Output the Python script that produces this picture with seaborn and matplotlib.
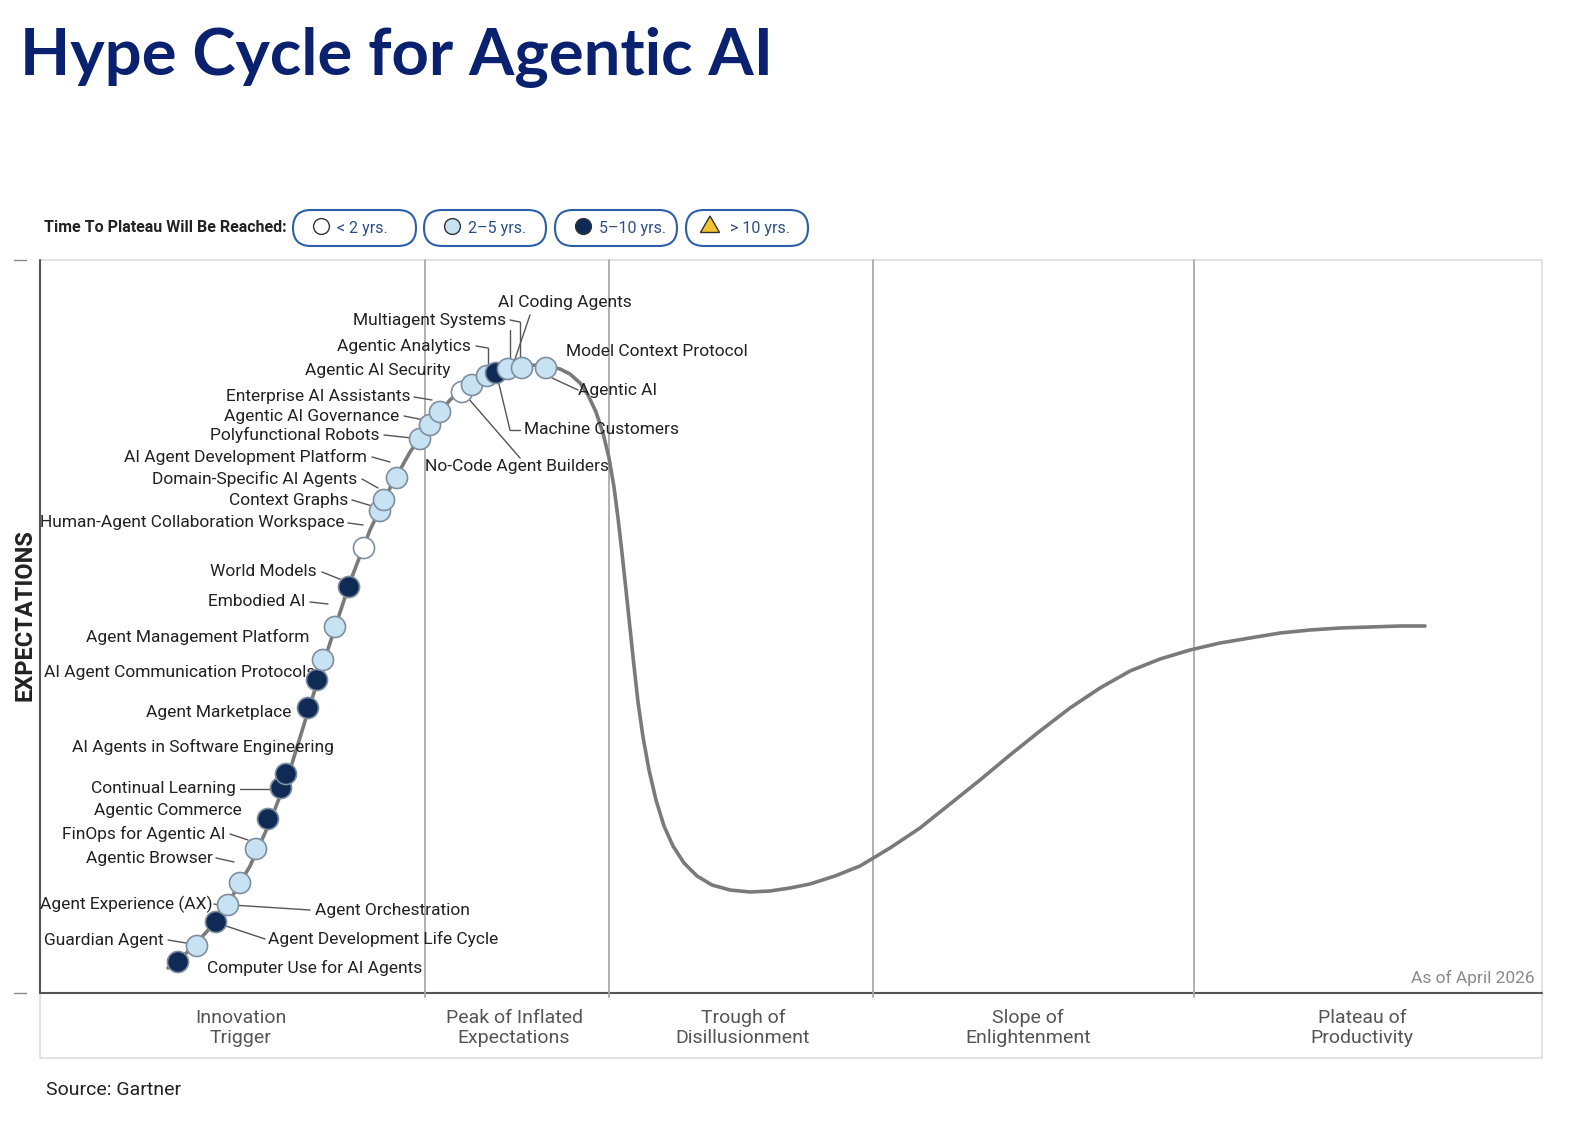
import matplotlib
matplotlib.use("Agg")
import numpy as np
import matplotlib.pyplot as plt
import seaborn as sns
from matplotlib.patches import FancyBboxPatch, RegularPolygon

sns.set_theme(style="white")
plt.rcParams['font.family'] = ['Roboto', 'DejaVu Sans']

# hype curve samples (pixel space)
curve_x = [168,190,210,230,250,270,290,310,330,350,370,390,410,430,450,470,490,510,530,548,560,570,580,588,596,603,609,614,618,622,626,630,634,638,643,649,656,664,673,684,697,712,730,750,770,790,810,835,860,890,920,950,980,1010,1040,1070,1100,1130,1160,1190,1220,1250,1280,1310,1340,1370,1400,1425]
curve_y = [968,950,928,900,866,822,770,705,643,582,530,488,452,424,400,383,373,368,365,366,369,374,383,395,412,433,458,487,518,553,590,628,666,702,737,770,800,826,846,863,876,885,890,892,891,888,884,876,866,848,828,804,780,755,731,708,688,671,659,650,643,638,633,630,628,627,626,626]

# innovation dots: x, y, kind (w=<2, l=2-5, d=5-10)
dot_x = [178,197,216,228,240,256,268,281,286,308,317,323,335,349,364,380,384,397,420,430,440,462,472,487,496,508,522,546]
dot_y = [962,946,922,905,883,849,819,788,774,708,680,660,627,587,548,511,500,478,439,425,412,392,385,376,373,369,368,368]
dot_kind = ['d','l','d','l','l','l','d','d','d','d','d','l','l','d','w','l','l','l','l','l','l','w','l','l','d','l','l','l']

# labels: text, x, y, ha, leader (x0,y0,x1,y1)
labels = [
    ("Computer Use for AI Agents", 207, 968, 'left', None),
    ("Guardian Agent", 164, 940, 'right', (168,940,192,944)),
    ("Agent Development Life Cycle", 268, 939, 'left', (265,939,220,924)),
    ("Agent Experience (AX)", 213, 904, 'right', (214,904,224,906)),
    ("Agent Orchestration", 315, 910, 'left', (310,910,232,905)),
    ("Agentic Browser", 213, 858, 'right', (216,858,234,862)),
    ("FinOps for Agentic AI", 226, 834, 'right', (230,834,248,840)),
    ("Agentic Commerce", 242, 811, 'right', None),
    ("Continual Learning", 236, 789, 'right', (240,789,276,789)),
    ("AI Agents in Software Engineering", 72, 747, 'left', None),
    ("Agent Marketplace", 291, 712, 'right', None),
    ("AI Agent Communication Protocols", 44, 673, 'left', None),
    ("Agent Management Platform", 309, 637, 'right', None),
    ("Embodied AI", 305, 602, 'right', (310,602,328,604)),
    ("World Models", 317, 572, 'right', (322,572,342,580)),
    ("Human-Agent Collaboration Workspace", 344, 523, 'right', (348,523,363,525)),
    ("Context Graphs", 348, 500, 'right', (352,500,372,506)),
    ("Domain-Specific AI Agents", 357, 479, 'right', (362,479,378,488)),
    ("AI Agent Development Platform", 367, 457, 'right', (372,457,390,462)),
    ("Polyfunctional Robots", 379, 435, 'right', (384,435,412,438)),
    ("Agentic AI Governance", 399, 416, 'right', (404,416,424,420)),
    ("Enterprise AI Assistants", 411, 397, 'right', (414,397,432,400)),
    ("Agentic AI Security", 305, 370, 'left', None),
    ("Agentic Analytics", 471, 346, 'right', (476,346,488,348,)),
    ("Multiagent Systems", 506, 320, 'right', (510,320,520,322)),
    ("AI Coding Agents", 498, 303, 'left', None),
    ("Model Context Protocol", 566, 352, 'left', None),
    ("Agentic AI", 578, 390, 'left', None),
    ("Machine Customers", 524, 430, 'left', None),
    ("No-Code Agent Builders", 425, 466, 'left', None),
]
extra_leaders = [(488,348,488,372),(520,322,520,362),(514,362,530,315),(510,330,510,366),
                 (552,378,578,390),(498,380,510,430),(510,430,520,430),(468,398,520,458)]

phase_x = [425, 609, 873, 1194]
phase_names = ["Innovation\nTrigger", "Peak of Inflated\nExpectations", "Trough of\nDisillusionment",
               "Slope of\nEnlightenment", "Plateau of\nProductivity"]
phase_label_x = [241, 514, 743, 1028, 1362]
legend_text = ["< 2 yrs.", "2\u20135 yrs.", "5\u201310 yrs.", "> 10 yrs."]

fig = plt.figure(figsize=(15.86, 11.32), dpi=100)
ax = fig.add_axes([0, 0, 1, 1])
ax.set_xlim(0, 1586); ax.set_ylim(1132, 0); ax.axis('off')

dark = '#0e2a55'; light = '#c7e2f2'

fig.text(20/1586, 1-57/1132, "Hype Cycle for Agentic AI", fontsize=47, fontweight='bold',
         color='#0a2170', va='center', ha='left', family=['Lato', 'DejaVu Sans'])

# plot frame
ax.plot([40,1542,1542,40,40],[260,260,1058,1058,260], color='#dddddd', lw=1.2)
ax.plot([40,40],[260,993], color='#555555', lw=1.5)
ax.plot([40,1542],[993,993], color='#555555', lw=1.5)
ax.plot([14,26],[260,260], color='#888888', lw=1)
ax.plot([14,26],[993,993], color='#888888', lw=1)
for px in phase_x:
    ax.plot([px,px],[260,997], color='#aaaaaa', lw=1.3)
for nm, lx in zip(phase_names, phase_label_x):
    ax.text(lx, 1028, nm, ha='center', va='center', fontsize=14, color='#555555', linespacing=1.2)
ax.text(25, 615, "EXPECTATIONS", rotation=90, ha='center', va='center', fontsize=17, fontweight='bold', color='#222222')
ax.text(1535, 978, "As of April 2026", ha='right', va='center', fontsize=12.5, color='#8a8a8a')
ax.text(46, 1090, "Source: Gartner", ha='left', va='center', fontsize=14, color='#222222')

# legend
ax.text(44, 228, "Time To Plateau Will Be Reached:", ha='left', va='center', fontsize=11.5, fontweight='bold', color='#222222')
pills = [(293,416),(424,546),(555,677),(686,808)]
for i, ((x0, x1), t) in enumerate(zip(pills, legend_text)):
    ax.add_patch(FancyBboxPatch((x0, 210), x1-x0, 36, boxstyle="round,pad=0,rounding_size=18",
                                fc='white', ec='#2b5fa8', lw=1.5))
    mx = x0 + 28
    if i == 3:
        ax.add_patch(RegularPolygon((mx-4, 227), 3, radius=11, orientation=np.pi,
                                    fc='#f2c230', ec='#333333', lw=1))
    else:
        fc = ['white', light, dark][i]
        ax.scatter([mx], [226], s=130, c=fc, edgecolors='#333333', linewidths=1, zorder=5)
    ax.text(mx+16, 228, t, ha='left', va='center', fontsize=11.5, color='#2b4f8a')

# curve
sns.lineplot(x=curve_x, y=curve_y, ax=ax, color='#7a7a7a', lw=2.6, sort=False, estimator=None)

# leaders and labels
for t, x, y, ha, ld in labels:
    ax.text(x, y, t, ha=ha, va='center', fontsize=12.5, color='#222222')
    if ld:
        ax.plot(ld[0::2], ld[1::2], color='#555555', lw=1)
for ld in extra_leaders:
    ax.plot(ld[0::2], ld[1::2], color='#555555', lw=1)

cmap = {'w': 'white', 'l': light, 'd': dark}
ax.scatter(dot_x, dot_y, s=230, c=[cmap[k] for k in dot_kind], edgecolors='#7f8fa0', linewidths=1.2, zorder=6)

fig.savefig("out.png", dpi=100)
